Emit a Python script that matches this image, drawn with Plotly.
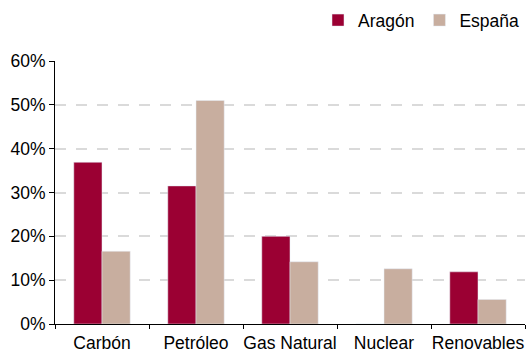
import plotly.graph_objects as go

categories = ["Carbón", "Petróleo", "Gas Natural", "Nuclear", "Renovables"]
aragon = [36.9, 31.5, 20.0, 0.0, 11.9]
espana = [16.6, 51.0, 14.2, 12.6, 5.6]
y_ticks = [0, 10, 20, 30, 40, 50, 60]
y_tick_labels = ["0%", "10%", "20%", "30%", "40%", "50%", "60%"]

fig = go.Figure()
fig.add_trace(go.Bar(name="Aragón", x=categories, y=aragon, marker_color="#9B0033"))
fig.add_trace(go.Bar(name="España", x=categories, y=espana, marker_color="#C8AE9F"))

fig.update_layout(
    width=527, height=353,
    margin=dict(l=55, r=2, t=58, b=29),
    paper_bgcolor="white", plot_bgcolor="white",
    barmode="group", bargap=0.4, bargroupgap=0,
    font=dict(family="Liberation Sans, Arial, sans-serif", size=17.5, color="black"),
    showlegend=True,
    legend=dict(orientation="h", x=1.0, xanchor="right", y=1.155, yanchor="middle",
                font=dict(size=17.5), itemwidth=30, traceorder="normal"),
)
fig.update_xaxes(
    showline=True, linecolor="black", linewidth=1,
    ticks="outside", tickson="boundaries", ticklen=4, tickcolor="black",
    showgrid=False, tickangle=0, automargin=False, ticklabelstandoff=3,
)
fig.update_yaxes(
    range=[0, 60], tickmode="array", tickvals=y_ticks, ticktext=y_tick_labels,
    showline=True, linecolor="black", linewidth=1,
    ticks="outside", ticklen=5, tickcolor="black",
    showgrid=True, gridcolor="#DADADA", griddash="11px,10px", gridwidth=2,
    zeroline=False, automargin=False,
)

fig.write_html("out.html")
